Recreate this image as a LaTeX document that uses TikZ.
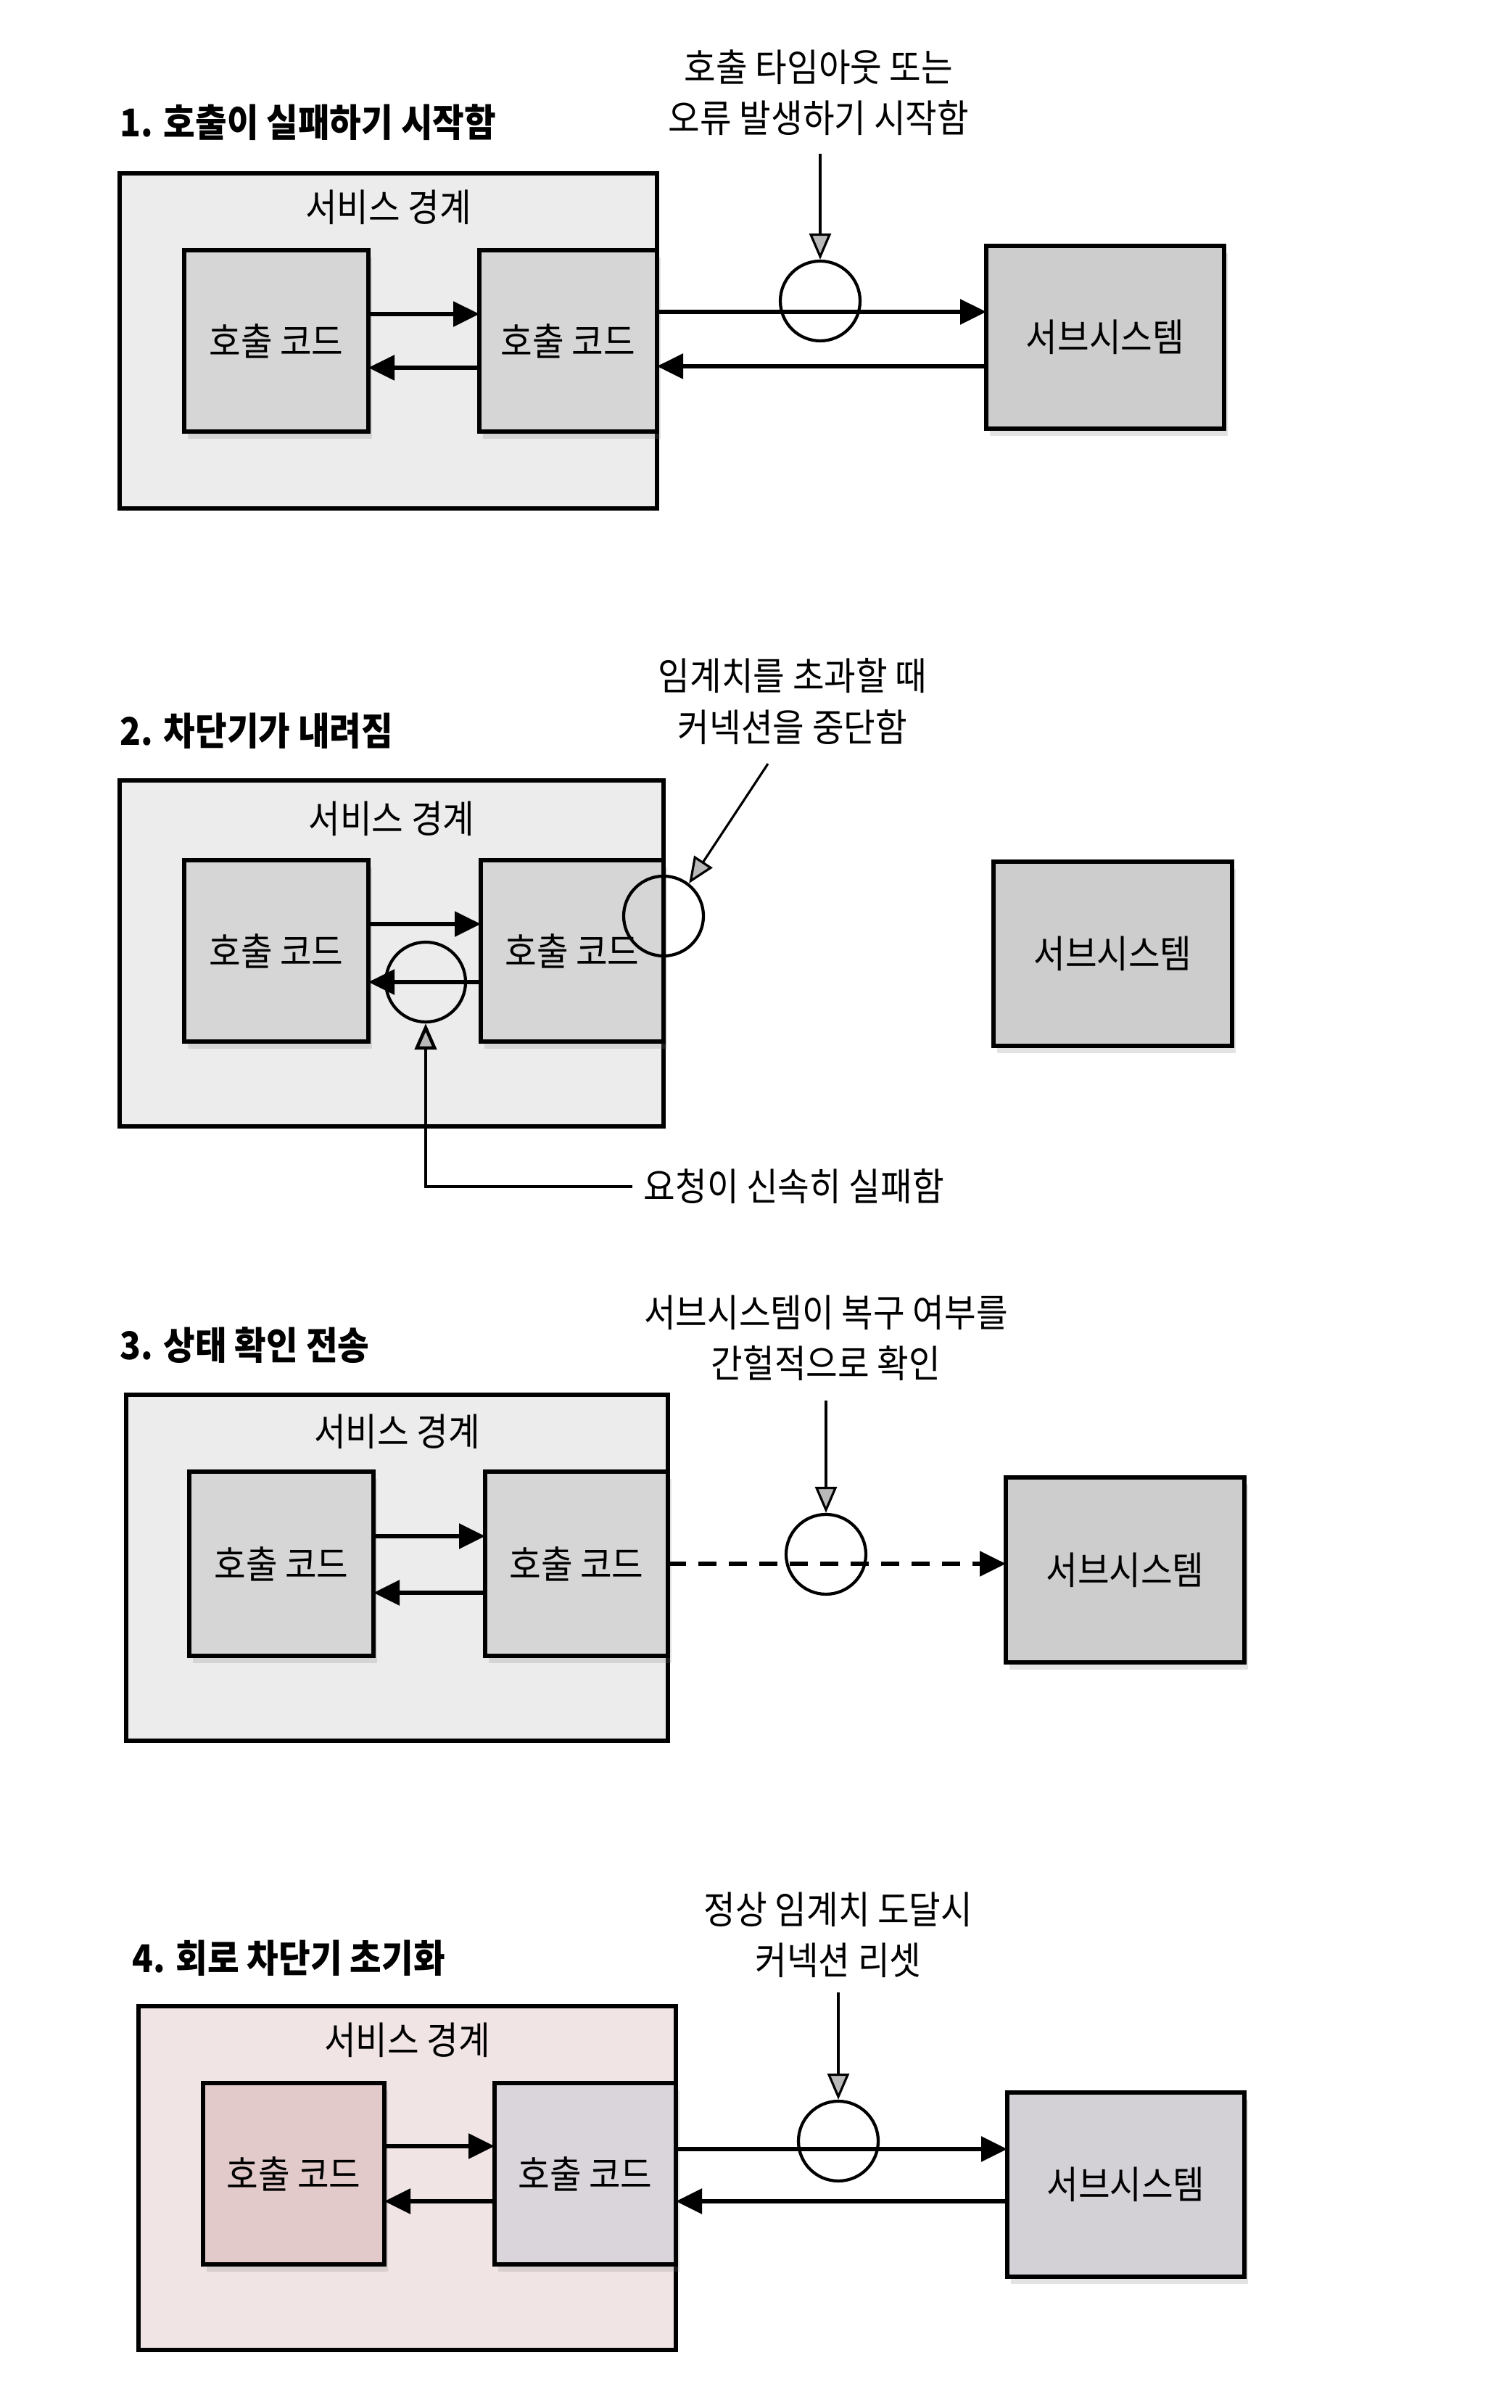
\documentclass[tikz,border=0pt]{standalone}
\usepackage{fontspec}
\setmainfont{Noto Sans CJK KR}[FakeStretch=0.9]
\usetikzlibrary{arrows.meta,shadows,positioning}

\definecolor{bndgray}{HTML}{ECECEC}
\definecolor{codegray}{HTML}{D6D6D6}
\definecolor{sysgray}{HTML}{CDCDCD}
\definecolor{bndpink}{HTML}{F0E4E4}
\definecolor{codepink}{HTML}{E2CACA}
\definecolor{codelilac}{HTML}{D9D5DB}
\definecolor{syslilac}{HTML}{D3D1D6}

\begin{document}
\begin{tikzpicture}[
    txt/.style={font=\fontsize{15}{20}\selectfont, inner sep=0pt},
    ttl/.style={font=\bfseries\fontsize{15}{20}\selectfont, inner sep=0pt, anchor=west},
    note/.style={txt, align=center},
    bnd/.style={draw, line width=1.8pt, fill=bndgray, inner sep=0pt, outer sep=0pt, anchor=north west},
    code/.style={draw, line width=1.8pt, fill=codegray, txt, outer sep=0pt, minimum width=2.54cm, minimum height=2.5cm,
                 drop shadow={opacity=0.22, shadow xshift=0.05cm, shadow yshift=-0.1cm}},
    sys/.style={code, fill=sysgray, minimum width=3.28cm, minimum height=2.52cm, anchor=north west},
    brk/.style={circle, draw, line width=1.2pt, minimum size=1.1cm, inner sep=0pt},
    flow/.style={line width=1.6pt, -{Triangle[length=0.36cm, width=0.34cm]}},
    hint/.style={line width=0.9pt, -{Triangle[length=0.36cm, width=0.3cm, fill=gray!55]}}
]
    \useasboundingbox[fill=white] (0,0) rectangle (20.84,33.2);

    % 1. Calls start failing
    \node[ttl] (ttl1) at (1.65,31.51) {1. 호출이 실패하기 시작함};
    \node[bnd, minimum width=7.41cm, minimum height=4.62cm] (bnd1) at (1.65,30.81) {};
    \node[txt] at ([yshift=-0.47cm]bnd1.north) {서비스 경계};
    \node[code, anchor=north west] (src1) at (2.54,29.75) {호출 코드};
    \node[code, anchor=east, minimum width=2.45cm] (dst1) at (bnd1.east |- src1.east) {호출 코드};
    \node[sys] (sys1) at (13.60,29.81) {서브시스템};
    \draw[flow] ([yshift=.37cm]src1.east) -- ([yshift=.37cm]dst1.west);
    \draw[flow] ([yshift=-.37cm]dst1.west) -- ([yshift=-.37cm]src1.east);
    \draw[flow] ([yshift=.4cm]dst1.east) -- ([yshift=.4cm]dst1.east -| sys1.west);
    \draw[flow] ([yshift=-.35cm]dst1.east -| sys1.west) -- ([yshift=-.35cm]dst1.east);
    \node[brk] (brk1) at (11.31,29.05) {};
    \node[note] (note1) at (11.29,31.92) {호출 타임아웃 또는\\오류 발생하기 시작함};
    \coordinate (from1) at (11.31,31.08);
    \draw[hint] (from1) -- (brk1.north);

    % 2. Breaker trips
    \node[ttl] (ttl2) at (1.65,23.12) {2. 차단기가 내려짐};
    \node[bnd, minimum width=7.50cm, minimum height=4.77cm] (bnd2) at (1.65,22.44) {};
    \node[txt] at ([yshift=-0.53cm]bnd2.north) {서비스 경계};
    \node[code, anchor=north west] (src2) at (2.54,21.34) {호출 코드};
    \node[code, anchor=east, minimum width=2.52cm] (dst2) at (bnd2.east |- src2.east) {호출 코드};
    \node[sys, minimum width=3.29cm, minimum height=2.54cm] (sys2) at (13.70,21.32) {서브시스템};
    \draw[flow] ([yshift=.37cm]src2.east) -- ([yshift=.37cm]dst2.west);
    \draw[flow] ([yshift=-.43cm]dst2.west) -- ([yshift=-.43cm]src2.east);
    \node[brk] (brkA2) at (5.87,19.66) {};
    \node[brk] (brkB2) at ([yshift=.48cm]dst2.east) {};
    \node[note] (note2) at (10.93,23.53) {임계치를 초과할 때\\커넥션을 중단함};
    \coordinate (from2) at (10.59,22.67);
    \draw[hint] (from2) -- (brkB2.52);
    \node[txt, anchor=west] (fail2) at (8.87,16.84) {요청이 신속히 실패함};
    \draw[hint, line width=1.3pt, shorten <=0.15cm] (fail2.west) -| (brkA2.south);

    % 3. Health check
    \node[ttl] (ttl3) at (1.65,14.65) {3. 상태 확인 전송};
    \node[bnd, minimum width=7.47cm, minimum height=4.77cm] (bnd3) at (1.74,13.97) {};
    \node[txt] at ([yshift=-0.51cm]bnd3.north) {서비스 경계};
    \node[code, anchor=north west, minimum height=2.54cm] (src3) at (2.61,12.91) {호출 코드};
    \node[code, anchor=east, minimum width=2.52cm, minimum height=2.54cm] (dst3) at (bnd3.east |- src3.east) {호출 코드};
    \node[sys, minimum width=3.29cm, minimum height=2.55cm] (sys3) at (13.87,12.83) {서브시스템};
    \draw[flow] ([yshift=.38cm]src3.east) -- ([yshift=.38cm]dst3.west);
    \draw[flow] ([yshift=-.4cm]dst3.west) -- ([yshift=-.4cm]src3.east);
    \draw[flow, dash pattern=on 0.25cm off 0.17cm] (dst3.east) -- (dst3.east -| sys3.west);
    \node[brk] (brk3) at (11.39,11.77) {};
    \node[note] (note3) at (11.39,14.75) {서브시스템이 복구 여부를\\간헐적으로 확인};
    \coordinate (from3) at (11.39,13.89);
    \draw[hint] (from3) -- (brk3.north);

    % 4. Breaker reset
    \node[ttl] (ttl4) at (1.82,6.20) {4. 회로 차단기 초기화};
    \node[bnd, fill=bndpink, minimum width=7.41cm, minimum height=4.74cm] (bnd4) at (1.91,5.54) {};
    \node[txt] at ([yshift=-0.47cm]bnd4.north) {서비스 경계};
    \node[code, fill=codepink, anchor=north west, minimum width=2.50cm] (src4) at (2.80,4.48) {호출 코드};
    \node[code, fill=codelilac, anchor=east, minimum width=2.50cm] (dst4) at (bnd4.east |- src4.east) {호출 코드};
    \node[sys, fill=syslilac, minimum width=3.27cm, minimum height=2.54cm] (sys4) at (13.89,4.35) {서브시스템};
    \draw[flow] ([yshift=.38cm]src4.east) -- ([yshift=.38cm]dst4.west);
    \draw[flow] ([yshift=-.38cm]dst4.west) -- ([yshift=-.38cm]src4.east);
    \draw[flow] ([yshift=.34cm]dst4.east) -- ([yshift=.34cm]dst4.east -| sys4.west);
    \draw[flow] ([yshift=-.38cm]dst4.east -| sys4.west) -- ([yshift=-.38cm]dst4.east);
    \node[brk] (brk4) at (11.56,3.68) {};
    \node[note] (note4) at (11.56,6.52) {정상 임계치 도달시\\커넥션 리셋};
    \coordinate (from4) at (11.56,5.73);
    \draw[hint] (from4) -- (brk4.north);
\end{tikzpicture}
\end{document}
